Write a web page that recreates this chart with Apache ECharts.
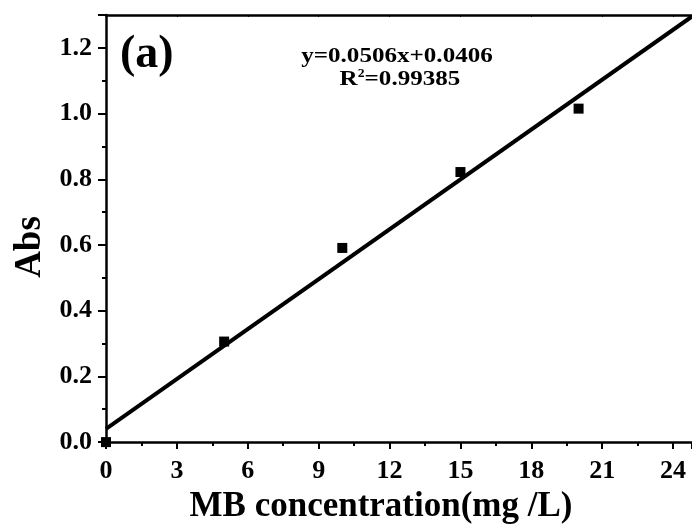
<!DOCTYPE html>
<html>
<head>
<meta charset="utf-8">
<script src="https://cdn.jsdelivr.net/npm/echarts@6/dist/echarts.min.js"></script>
<style>
html, body { margin: 0; padding: 0; background: #fff; }
#main { width: 692px; height: 529px; }
</style>
</head>
<body>
<div id="main"></div>
<script>
// measured points (MB concentration, absorbance)
var concentrations = [0, 5, 10, 15, 20];
var absorbances = [0, 0.306, 0.591, 0.822, 1.015];
// linear fit reported in the figure
var fitSlope = 0.0506;
var fitIntercept = 0.0406;
var fitRange = [0, 24.8];

var FONT = '"Liberation Serif", "Times New Roman", serif';

var chart = echarts.init(document.getElementById('main'));

var points = concentrations.map(function (c, i) { return [c, absorbances[i]]; });
var fitLine = fitRange.map(function (x) { return [x, fitSlope * x + fitIntercept]; });

chart.setOption({
    animation: false,
    backgroundColor: '#fff',
    grid: {
        left: 106,
        top: 15,
        width: 587,
        height: 435
    },
    xAxis: [{
        type: 'value',
        min: 0,
        max: 24.8,
        interval: 3,
        name: 'MB concentration(mg /L)',
        nameLocation: 'middle',
        nameGap: 41,
        nameTextStyle: {
            fontFamily: FONT, fontWeight: 'bold', fontSize: 35, color: '#000',
            padding: [0, 36, 0, 0]
        },
        splitLine: { show: false },
        axisLine: { onZero: false, lineStyle: { color: '#000', width: 2.5 } },
        axisTick: { inside: false, length: 7, lineStyle: { color: '#000', width: 2 } },
        minorTick: { show: true, splitNumber: 2, length: 4, lineStyle: { color: '#000', width: 2 } },
        axisLabel: {
            margin: 16, showMaxLabel: false,
            fontFamily: FONT, fontWeight: 'bold', fontSize: 26, color: '#000'
        }
    }, {
        type: 'value',
        position: 'top',
        min: 0,
        max: 24.8,
        interval: 3,
        splitLine: { show: false },
        axisLine: { onZero: false, lineStyle: { color: '#000', width: 2.5 } },
        axisTick: { inside: true, length: 2, lineStyle: { color: '#000', width: 1 } },
        axisLabel: { show: false }
    }],
    yAxis: {
        type: 'value',
        min: 0,
        max: 1.3,
        interval: 0.2,
        splitLine: { show: false },
        axisLine: { onZero: false, lineStyle: { color: '#000', width: 2.5 } },
        axisTick: { length: 8, lineStyle: { color: '#000', width: 2 } },
        minorTick: { show: true, splitNumber: 2, length: 4, lineStyle: { color: '#000', width: 2 } },
        axisLabel: {
            margin: 14, showMaxLabel: false,
            fontFamily: FONT, fontWeight: 'bold', fontSize: 26, color: '#000',
            formatter: function (v) { return v.toFixed(1); }
        }
    },
    graphic: [{
        type: 'text',
        x: 30,
        y: 247,
        rotation: Math.PI / 2,
        style: {
            text: 'Abs', align: 'center', verticalAlign: 'middle',
            fontFamily: FONT, fontWeight: 'bold', fontSize: 37, fill: '#000'
        }
    }, {
        type: 'text',
        left: 120,
        top: 32,
        style: { text: '(a)', fontFamily: FONT, fontWeight: 'bold', fontSize: 46, fill: '#000' }
    }, {
        type: 'text',
        x: 397,
        y: 56,
        scaleX: 1.14,
        style: {
            text: 'y=0.0506x+0.0406', align: 'center', verticalAlign: 'middle',
            fontFamily: FONT, fontWeight: 'bold', fontSize: 22, fill: '#000'
        }
    }, {
        type: 'text',
        x: 400,
        y: 79,
        scaleX: 1.14,
        style: {
            text: '{r|R}{s|2}{r|=0.99385}', align: 'center', verticalAlign: 'middle',
            fontFamily: FONT, fontWeight: 'bold', fontSize: 22, fill: '#000',
            rich: {
                r: { fontFamily: FONT, fontWeight: 'bold', fontSize: 22, fill: '#000' },
                s: { fontFamily: FONT, fontWeight: 'bold', fontSize: 12, fill: '#000', verticalAlign: 'top', padding: [0, 0, 10, 0] }
            }
        }
    }],
    series: [{
        name: 'fit',
        type: 'line',
        data: fitLine,
        symbol: 'none',
        lineStyle: { color: '#000', width: 4 },
        silent: true,
        z: 2
    }, {
        name: 'Abs',
        type: 'scatter',
        data: points,
        symbol: 'rect',
        symbolSize: 10,
        itemStyle: { color: '#000', opacity: 1 },
        z: 3
    }]
});
</script>
</body>
</html>
